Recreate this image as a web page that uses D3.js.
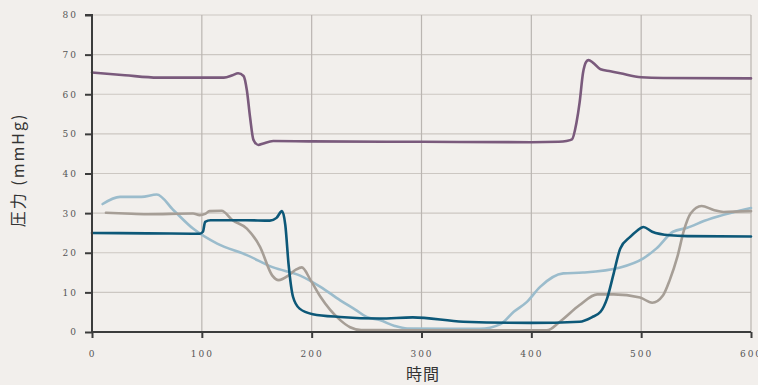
<!DOCTYPE html>
<html><head><meta charset="utf-8">
<script src="https://cdn.jsdelivr.net/npm/d3@7"></script>
<style>
html,body{margin:0;padding:0;background:#f2efec;}
svg{display:block;}
</style></head>
<body>
<svg id="chart" width="758" height="385"></svg>
<script>
// Data (time, pressure mmHg)
const xTicks = [0,100,200,300,400,500,600];
const yTicks = [0,10,20,30,40,50,60,70,80];
const purpleT = [0,30,60,100,120,128,133,138,141,144,147,151.5,156,165,200,300,400,425,432,437,441,444,447,450,452,456,463,472,481,500,520,600];
const purpleV = [65.5,64.8,64.2,64.2,64.2,64.8,65.3,64.6,61,54,48.5,47.2,47.6,48.2,48.1,48,47.9,48,48.2,48.6,52.7,58,65.3,68.2,68.6,68,66.3,65.8,65.3,64.3,64.1,64];
const darkT = [0,50,98,101,103,108,140,162,168,173,176,179,183,189,201,226,262,292,338,399,444,455,463,469,475,481,490,496,502,510,526,542,600];
const darkV = [25,24.9,24.8,25.3,27.8,28.2,28.2,28.1,28.8,30.5,27,17,8.9,5.9,4.5,3.8,3.4,3.7,2.6,2.3,2.6,3.7,5.1,8.5,14.8,21.1,24,25.5,26.5,25.3,24.4,24.2,24.1];
const grayT = [12.7,30,50,92,98,103,107,118,128,141,153,164,170,179,186,191,199,208,226,235,245,262,300,414,426,444,460,475,499,510,520,526,533,539,545,555,566,575,600];
const grayV = [30.1,29.9,29.7,29.9,29.5,29.8,30.5,30.6,28.2,26.1,21.5,14.3,13.1,14.3,15.8,16.3,13.1,8.9,3.0,1.2,0.5,0.5,0.4,0.4,2.6,6.8,9.5,9.5,8.7,7.4,9.3,13.1,19,25.7,29.9,31.8,30.8,30.3,30.5];
const lightT = [9.7,25.5,45,59,74,92,114,141,165,189,208,226,240,250,262,275,287,353,372,384,396,408,429,447,481,502,514,529,542,557,600];
const lightV = [32.3,34.1,34.1,34.7,30.8,26.1,22.3,19.4,16.3,14.3,11.4,8.0,5.6,3.8,3.0,1.6,0.9,0.8,2.0,5.1,7.6,11.4,14.8,15.0,16.3,18.6,21.1,25.3,26.3,28.0,31.3];

const series = [
  {t: lightT, v: lightV, color: "#9bbccc"},
  {t: grayT, v: grayV, color: "#a69e96"},
  {t: darkT, v: darkV, color: "#0d5878"},
  {t: purpleT, v: purpleV, color: "#7a5a7c"}
];

const svg = d3.select("#chart");
const x = d3.scaleLinear().domain([0,600]).range([92,751]);
const y = d3.scaleLinear().domain([0,80]).range([332,15]);

// grid
svg.append("g").selectAll("line").data(yTicks.filter(d=>d>0)).join("line")
  .attr("x1", x(0)).attr("x2", x(600)).attr("y1", d=>y(d)).attr("y2", d=>y(d))
  .attr("stroke", "#ccc7c2").attr("stroke-width", 1.2);
svg.append("g").selectAll("line").data(xTicks.filter(d=>d>0)).join("line")
  .attr("x1", d=>x(d)).attr("x2", d=>x(d)).attr("y1", y(0)).attr("y2", y(80))
  .attr("stroke", "#bab5b1").attr("stroke-width", 1.2);

// lines
const line = d3.line().curve(d3.curveMonotoneX);
series.forEach(s => {
  svg.append("path")
    .attr("d", line(s.t.map((t,i)=>[x(t), y(s.v[i])])))
    .attr("fill","none").attr("stroke", s.color).attr("stroke-width", 2.6)
    .attr("stroke-linejoin","round").attr("stroke-linecap","round");
});

// axes
const yAxis = d3.axisLeft(y).tickValues(yTicks).tickSize(7).tickPadding(7).tickFormat(d3.format("d"));
const xAxis = d3.axisBottom(x).tickValues(xTicks).tickSize(6).tickPadding(13).tickFormat(d3.format("d"));
const gy = svg.append("g").attr("transform", `translate(${x(0)},0)`).call(yAxis);
const gx = svg.append("g").attr("transform", `translate(0,${y(0)})`).call(xAxis);
[gy,gx].forEach(g=>{
  g.select(".domain").attr("stroke","#3c3c3c").attr("stroke-width",2);
  g.selectAll(".tick line").attr("stroke","#3c3c3c").attr("stroke-width",2);
  g.selectAll(".tick text").attr("fill","#555").style("font-family","'DejaVu Serif', serif")
    .style("font-size","9px").style("letter-spacing","2px");
});
gy.select(".domain").attr("d", `M-7,${y(80)}H0V${y(0)}`);
gx.select(".domain").attr("transform", `translate(${x(0)},0)`).attr("d", `M0,0H${x(600)-x(0)}`);

// axis labels
svg.append("text").attr("x", 423).attr("y", 380).attr("text-anchor","middle")
  .style("font-family","'Noto Sans CJK JP', sans-serif").style("font-size","16px").attr("fill","#333")
  .style("letter-spacing","1px")
  .text("時間");
svg.append("text").attr("transform","translate(24,170) rotate(-90)").attr("text-anchor","middle")
  .style("font-family","'Noto Sans CJK JP', sans-serif").style("font-size","16px").attr("fill","#333")
  .style("letter-spacing","2px")
  .text("圧力 (mmHg)");
</script>
</body></html>
